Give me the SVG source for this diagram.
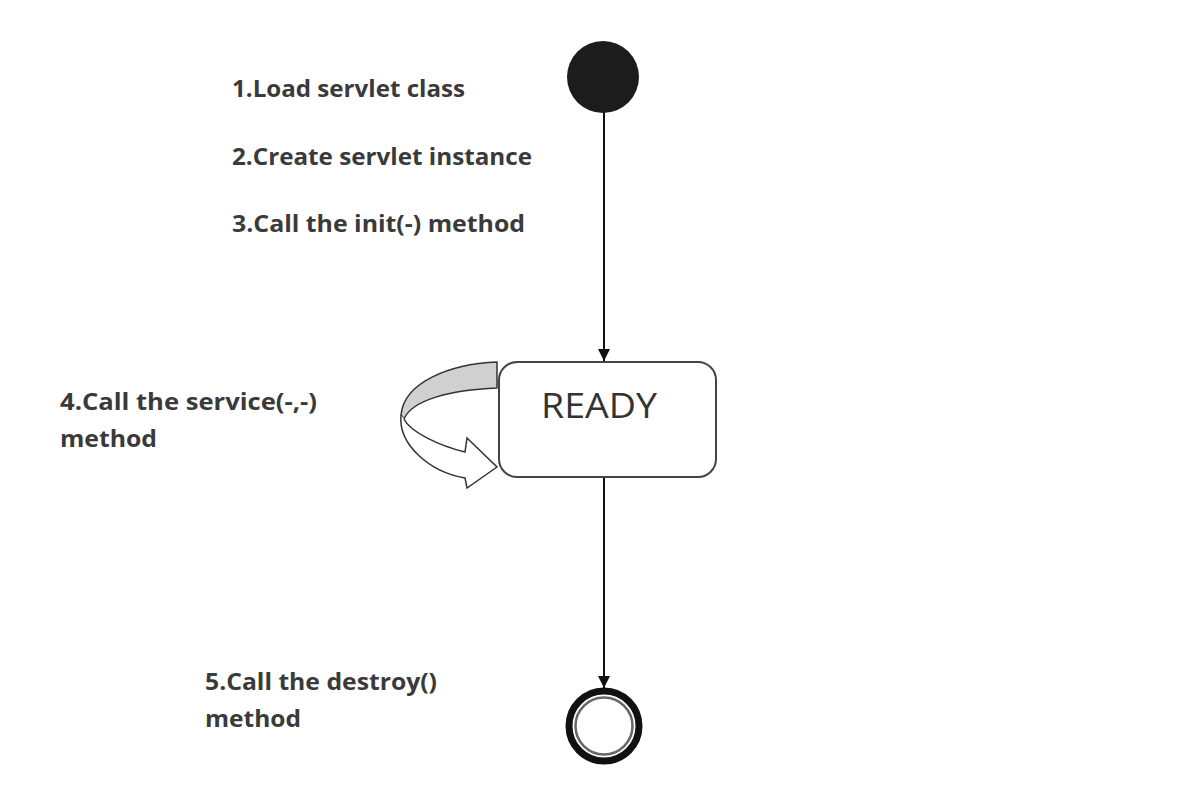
<svg xmlns="http://www.w3.org/2000/svg" width="1188" height="810" viewBox="0 0 1188 810">
<style>
.lbl{font-family:"Open Sans","Liberation Sans",sans-serif;font-weight:bold;font-size:24px;fill:#3a3a3a}
.state{font-family:"Open Sans","Liberation Sans",sans-serif;font-size:34px;fill:#333}
.edge{stroke:#111;stroke-width:2;fill:none}
</style>
<defs>
<marker id="ah" viewBox="0 0 10 10" refX="10" refY="5" markerWidth="6" markerHeight="6" markerUnits="strokeWidth" orient="auto">
<path d="M0,0 L10,5 L0,10 z" fill="#111"/>
</marker>
</defs>
<rect width="1188" height="810" fill="#fff"/>
<g id="labels">
<text class="lbl" x="232" y="97" textLength="233" lengthAdjust="spacingAndGlyphs">1.Load servlet class</text>
<text class="lbl" x="232" y="165" textLength="300" lengthAdjust="spacingAndGlyphs">2.Create servlet instance</text>
<text class="lbl" x="232" y="232" textLength="293" lengthAdjust="spacingAndGlyphs">3.Call the init(-) method</text>
<text class="lbl" x="60" y="410" textLength="257" lengthAdjust="spacingAndGlyphs">4.Call the service(-,-)</text>
<text class="lbl" x="60" y="447" textLength="97" lengthAdjust="spacingAndGlyphs">method</text>
<text class="lbl" x="205" y="690" textLength="232" lengthAdjust="spacingAndGlyphs">5.Call the destroy()</text>
<text class="lbl" x="205" y="727" textLength="96" lengthAdjust="spacingAndGlyphs">method</text>
</g>
<g id="connectors">
<line class="edge" x1="604" y1="112" x2="604" y2="361" marker-end="url(#ah)"/>
<line class="edge" x1="604" y1="478" x2="604" y2="688" marker-end="url(#ah)"/>
</g>
<g id="start">
<circle cx="603" cy="77" r="36" fill="#1c1c1c"/>
</g>
<g id="self-loop">
<path d="M497,362 C450,364 404,382 401,415 L404,419 C412,400 450,390 497,388 Z" fill="#d0d0d0" stroke="#333" stroke-width="1.5" stroke-linejoin="round"/>
<path d="M401,415 C398,445 430,472 465,478 L467,488 L497,467 L467,438 L465,452 C440,446 410,432 404,419" fill="#fff" stroke="#333" stroke-width="1.5" stroke-linejoin="miter"/>
</g>
<g id="ready">
<rect x="499" y="362" width="217" height="115" rx="18" ry="18" fill="#fff" stroke="#444" stroke-width="2"/>
<text class="state" x="541" y="418" textLength="116" lengthAdjust="spacingAndGlyphs">READY</text>
</g>
<g id="end">
<circle cx="604" cy="726" r="35" fill="#fff" stroke="#111" stroke-width="7"/>
<circle cx="604" cy="726" r="28.5" fill="#fff" stroke="#666" stroke-width="2.5"/>
</g>
</svg>
